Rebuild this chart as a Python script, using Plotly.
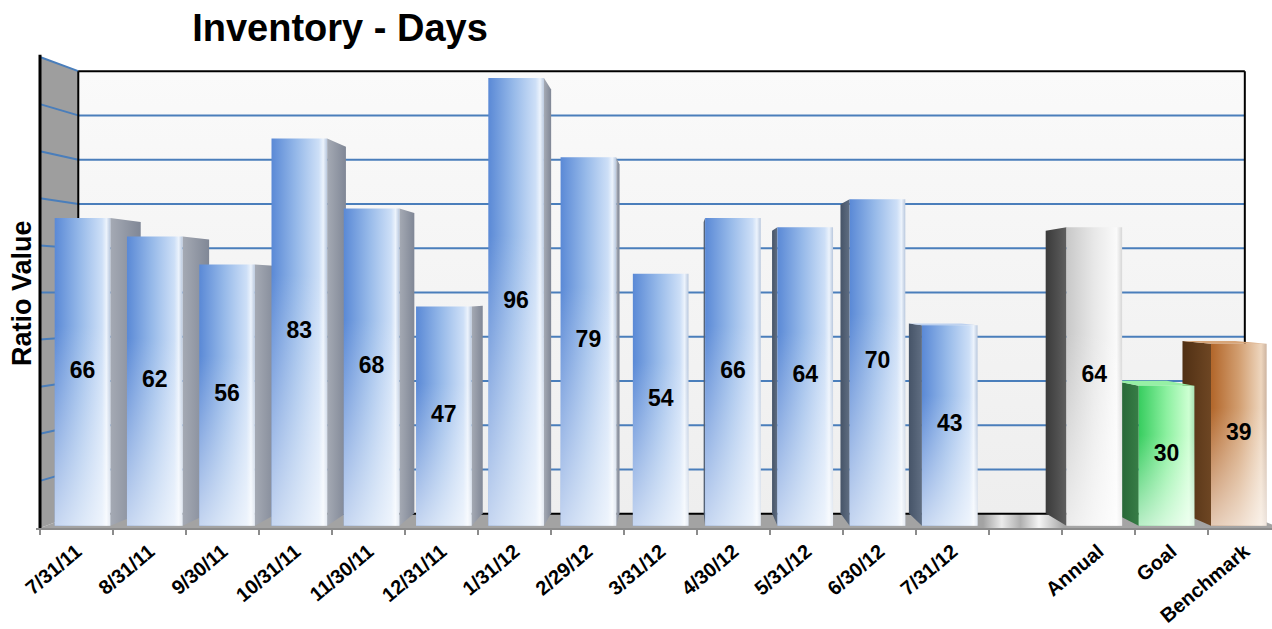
import plotly.graph_objects as go

# ---- chart content ----
title_text = "Inventory - Days"
y_title = "Ratio Value"

month_labels = ["7/31/11", "8/31/11", "9/30/11", "10/31/11", "11/30/11", "12/31/11",
                "1/31/12", "2/29/12", "3/31/12", "4/30/12", "5/31/12", "6/30/12", "7/31/12"]
month_days = [66, 62, 56, 83, 68, 47, 96, 79, 54, 66, 64, 70, 43]

summary_labels = ["Annual", "Goal", "Benchmark"]
summary_days = [64, 30, 39]

y_max = 100
grid_step = 10

# ---- styling / geometry of the pseudo-3D scene ----
FONT = "Liberation Sans, Arial, sans-serif"
NARROW = "Liberation Sans Narrow, Arial Narrow, Liberation Sans, Arial, sans-serif"

VP_X, VP_Y = 8.24, 50.0      # vanishing point (data units)
S_WALL = 0.94                # scale of the back wall plane
S_FRONT, S_BACK = 0.99, 0.937  # scale of bar front / back planes
HALF_W = 0.385               # half bar width (slots)

PALETTE = {
    "month": dict(front=[[0, "rgb(90,137,214)"], [0.45, "rgb(150,185,233)"], [0.85, "rgb(205,223,247)"],
                         [0.93, "rgb(236,243,252)"], [1, "rgb(185,200,222)"]],
                  side_r=[[0, "rgb(165,170,180)"], [1, "rgb(128,135,150)"]],
                  side_l=[[0, "rgb(70,84,104)"], [1, "rgb(96,110,130)"]],
                  top="rgb(190,210,240)"),
    "Annual": dict(front=[[0, "rgb(200,200,200)"], [0.5, "rgb(232,232,232)"], [0.9, "rgb(250,250,250)"],
                          [1, "rgb(215,215,215)"]],
                   side_l=[[0, "rgb(58,58,58)"], [1, "rgb(95,95,95)"]],
                   top="rgb(225,225,225)"),
    "Goal": dict(front=[[0, "rgb(55,205,95)"], [0.5, "rgb(140,240,160)"], [0.9, "rgb(205,255,210)"],
                        [1, "rgb(170,225,180)"]],
                 side_l=[[0, "rgb(35,95,50)"], [1, "rgb(55,125,70)"]],
                 top="rgb(150,240,165)"),
    "Benchmark": dict(front=[[0, "rgb(178,102,42)"], [0.5, "rgb(210,158,112)"], [0.9, "rgb(238,214,190)"],
                             [1, "rgb(205,180,160)"]],
                      side_l=[[0, "rgb(80,48,20)"], [1, "rgb(110,70,35)"]],
                      top="rgb(215,165,120)"),
}

GRID_COLOR = "rgb(74,126,187)"


def proj(x, y, s):
    """Perspective-project a front-plane point onto the plane with scale s."""
    return VP_X + s * (x - VP_X), VP_Y + s * (y - VP_Y)


def poly(points, colorscale=None, color=None, orient="horizontal"):
    xs = [p[0] for p in points] + [points[0][0]]
    ys = [p[1] for p in points] + [points[0][1]]
    kw = dict(x=xs, y=ys, mode="lines", fill="toself", line=dict(width=0),
              hoverinfo="skip", showlegend=False)
    if colorscale is not None:
        kw["fillgradient"] = dict(type=orient, colorscale=colorscale)
    else:
        kw["fillcolor"] = color
    return go.Scatter(**kw)


def segs(pairs, color, width):
    xs, ys = [], []
    for a, b in pairs:
        xs += [a[0], b[0], None]
        ys += [a[1], b[1], None]
    return go.Scatter(x=xs, y=ys, mode="lines", line=dict(color=color, width=width),
                      hoverinfo="skip", showlegend=False)


# slot positions: months, one empty slot, then the summary bars
n_slots = len(month_labels) + 1 + len(summary_labels)
bars = [(i, v, "month") for i, v in enumerate(month_days)]
bars += [(len(month_labels) + 1 + j, v, lab) for j, (lab, v) in enumerate(zip(summary_labels, summary_days))]

tick_vals = list(range(n_slots))
tick_text = month_labels + [""] + summary_labels

x_lo, x_hi = -0.5, n_slots - 0.5

fig = go.Figure()

# back wall, left wall, floor
bw = [proj(x_lo, 0, S_WALL), proj(x_hi, 0, S_WALL), proj(x_hi, y_max, S_WALL), proj(x_lo, y_max, S_WALL)]
fig.add_trace(poly(bw, [[0, "rgb(238,238,238)"], [1, "rgb(250,250,250)"]], orient="vertical"))
lw = [(x_lo, 0), (x_lo, y_max), proj(x_lo, y_max, S_WALL), proj(x_lo, 0, S_WALL)]
fig.add_trace(poly(lw, color="rgb(158,158,158)"))
fl = [(x_lo, 0), (x_hi, 0), proj(x_hi, 0, S_WALL), proj(x_lo, 0, S_WALL)]
fig.add_trace(poly(fl, [[0, "rgb(163,163,163)"], [0.76, "rgb(163,163,163)"], [0.775, "rgb(235,235,235)"],
                        [0.79, "rgb(175,175,175)"], [0.805, "rgb(245,245,245)"], [0.825, "rgb(165,165,165)"],
                        [1, "rgb(163,163,163)"]]))

# gridlines on back and left walls
levels = list(range(grid_step, y_max, grid_step))
fig.add_trace(segs([(proj(x_lo, v, S_WALL), proj(x_hi, v, S_WALL)) for v in levels], GRID_COLOR, 2))
fig.add_trace(segs([((x_lo, v), proj(x_lo, v, S_WALL)) for v in levels + [y_max]], GRID_COLOR, 2))

# wall frame
fig.add_trace(segs([(bw[3], bw[2]), (bw[2], bw[1]), (bw[0], bw[3]), (bw[0], bw[1])], "black", 2))
fig.add_trace(segs([((x_lo, 0), (x_lo, y_max + 0.5))], "black", 3))

# bar side faces
for c, v, kind in bars:
    pal = PALETTE[kind]
    if c < VP_X:
        x = c + HALF_W
        cs = pal.get("side_r", pal["side_l"])
    else:
        x = c - HALF_W
        cs = pal["side_l"]
    pts = [proj(x, 0, S_FRONT), proj(x, v, S_FRONT), proj(x, v, S_BACK), proj(x, 0, S_BACK)]
    fig.add_trace(poly(pts, cs))

# top faces of bars below eye level
for c, v, kind in bars:
    if v < VP_Y:
        pts = [proj(c - HALF_W, v, S_FRONT), proj(c + HALF_W, v, S_FRONT),
               proj(c + HALF_W, v, S_BACK), proj(c - HALF_W, v, S_BACK)]
        fig.add_trace(poly(pts, color=PALETTE[kind]["top"]))

# bar front faces with a whitening toward the floor
for c, v, kind in bars:
    pts = [proj(c - HALF_W, 0, S_FRONT), proj(c + HALF_W, 0, S_FRONT),
           proj(c + HALF_W, v, S_FRONT), proj(c - HALF_W, v, S_FRONT)]
    fig.add_trace(poly(pts, PALETTE[kind]["front"]))
    fig.add_trace(poly(pts, [[0, "rgba(255,255,255,0.65)"], [0.65, "rgba(255,255,255,0)"],
                             [1, "rgba(255,255,255,0)"]], orient="vertical"))

# value labels in the middle of each bar
lab_pts = [proj(c, v / 2, S_FRONT) for c, v, _ in bars]
fig.add_trace(go.Scatter(x=[p[0] for p in lab_pts], y=[p[1] for p in lab_pts], mode="text",
                         text=[str(v) for _, v, _ in bars],
                         textfont=dict(family=NARROW, size=23, color="black", weight="bold"),
                         hoverinfo="skip", showlegend=False))

L, T, B = 36, 25, 101
W, H = 1272, 629
px_per_unit = 4.71
slot_px = 73.0
x_range = [x_lo - (40 - L) / slot_px, x_lo + (W - 40) / slot_px]
y_range = [0, (H - T - B) / px_per_unit]

fig.update_layout(
    width=W, height=H, autosize=False,
    margin=dict(l=L, r=0, t=T, b=B, autoexpand=False),
    paper_bgcolor="white", plot_bgcolor="white",
    showlegend=False,
    title=dict(text=title_text, x=340 / W, xanchor="center", y=1 - 28 / H, yanchor="middle",
               font=dict(family=FONT, size=38, color="black", weight="bold")),
    xaxis=dict(range=x_range, tickvals=tick_vals, ticktext=tick_text, tickangle=-40,
               tickfont=dict(family=FONT, size=20, color="black", weight="bold"),
               ticklabelstandoff=2, automargin=False,
               showgrid=False, zeroline=False, showline=True, linecolor="rgb(140,140,140)",
               linewidth=2, ticks=""),
    xaxis2=dict(range=x_range, overlaying="x", anchor="y", side="bottom", automargin=False,
                tickvals=[i - 0.5 for i in range(n_slots + 1)], ticks="outside", ticklen=6,
                tickwidth=2, tickcolor="rgb(140,140,140)", showticklabels=False,
                showgrid=False, zeroline=False, showline=False),
    yaxis=dict(range=y_range, showgrid=False, zeroline=False, showticklabels=False, showline=False,
               automargin=False),
    annotations=[dict(text=y_title, textangle=-90, xref="paper", yref="paper",
                      x=(22 - L) / (W - L), y=(528 - 293) / (H - T - B),
                      xanchor="center", yanchor="middle", showarrow=False,
                      font=dict(family=FONT, size=27, color="black", weight="bold"))],
)

# an empty trace so xaxis2 is drawn
fig.add_trace(go.Scatter(x=[None], y=[None], xaxis="x2", showlegend=False, hoverinfo="skip"))

fig.write_html("out.html")
